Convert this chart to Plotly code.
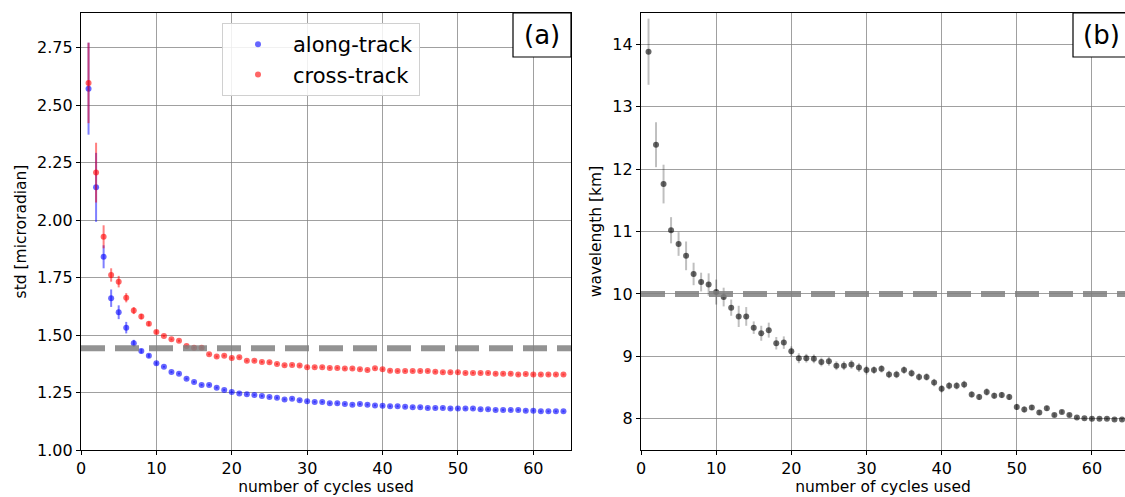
import plotly.graph_objects as go

W, H = 1125, 497

cycles = list(range(1, 65))

along_track = [2.571, 2.142, 1.840, 1.660, 1.599, 1.532, 1.464, 1.430, 1.410, 1.377,
               1.362, 1.339, 1.332, 1.310, 1.296, 1.283, 1.283, 1.271, 1.261, 1.252,
               1.246, 1.242, 1.239, 1.235, 1.230, 1.227, 1.220, 1.223, 1.216, 1.212,
               1.209, 1.209, 1.203, 1.203, 1.200, 1.197, 1.200, 1.197, 1.194, 1.192,
               1.190, 1.190, 1.188, 1.186, 1.186, 1.183, 1.183, 1.183, 1.180, 1.180,
               1.180, 1.180, 1.177, 1.177, 1.174, 1.174, 1.174, 1.174, 1.171, 1.171,
               1.168, 1.168, 1.168, 1.168]
along_err = [0.20, 0.15, 0.05, 0.038, 0.03, 0.025, 0.015, 0.01, 0.008, 0.006] + [0.004] * 54

cross_track = [2.596, 2.206, 1.927, 1.761, 1.732, 1.662, 1.606, 1.580, 1.549, 1.513,
               1.496, 1.481, 1.475, 1.452, 1.445, 1.445, 1.416, 1.406, 1.410, 1.400,
               1.403, 1.388, 1.388, 1.383, 1.381, 1.374, 1.368, 1.370, 1.367, 1.360,
               1.360, 1.360, 1.357, 1.357, 1.354, 1.354, 1.351, 1.348, 1.355, 1.351,
               1.345, 1.343, 1.343, 1.343, 1.343, 1.343, 1.340, 1.338, 1.338, 1.338,
               1.335, 1.335, 1.335, 1.335, 1.332, 1.332, 1.332, 1.328, 1.330, 1.328,
               1.328, 1.328, 1.328, 1.328]
cross_err = [0.175, 0.13, 0.05, 0.029, 0.025, 0.02, 0.015, 0.012, 0.01, 0.008] + [0.004] * 54

wavelength = [13.88, 12.39, 11.76, 11.02, 10.80, 10.61, 10.32, 10.19, 10.15, 10.03,
              9.95, 9.78, 9.64, 9.64, 9.46, 9.37, 9.42, 9.21, 9.22, 9.08,
              8.97, 8.97, 8.96, 8.91, 8.92, 8.85, 8.85, 8.87, 8.82, 8.78,
              8.78, 8.80, 8.71, 8.71, 8.78, 8.73, 8.67, 8.67, 8.58, 8.48,
              8.53, 8.53, 8.55, 8.39, 8.35, 8.43, 8.37, 8.38, 8.35, 8.19,
              8.15, 8.18, 8.10, 8.17, 8.06, 8.11, 8.06, 8.02, 8.01, 8.00,
              8.00, 8.00, 7.99, 7.99]
wavelength_err = [0.53, 0.36, 0.31, 0.21, 0.19, 0.23, 0.18, 0.15, 0.18, 0.2,
                  0.15, 0.13, 0.17, 0.15, 0.1, 0.12, 0.12, 0.1, 0.1, 0.08,
                  0.08, 0.07, 0.07, 0.07, 0.07, 0.07, 0.07, 0.07, 0.07, 0.07,
                  0.06, 0.06, 0.06, 0.06, 0.06, 0.06, 0.06, 0.06, 0.06, 0.06,
                  0.06, 0.06, 0.06, 0.05, 0.05, 0.06, 0.05, 0.05, 0.05, 0.05,
                  0.05, 0.04, 0.04, 0.04, 0.03, 0.03, 0.03, 0.02, 0.02, 0.02,
                  0.02, 0.02, 0.02, 0.02]

std_threshold = 1.442
wavelength_threshold = 10.0

left_ticks = [1.00, 1.25, 1.50, 1.75, 2.00, 2.25, 2.50, 2.75]
right_ticks = [8, 9, 10, 11, 12, 13, 14]
x_ticks = [0, 10, 20, 30, 40, 50, 60]

FONT = "DejaVu Sans"
TICK = 16
TITLE = 15.5

fig = go.Figure()

fig.add_trace(go.Scatter(
    x=cycles, y=along_track, mode="markers", name="along-track",
    marker=dict(color="rgba(0,0,255,0.6)", size=6),
    error_y=dict(type="data", array=along_err, color="rgba(0,0,255,0.5)", thickness=2, width=0),
    xaxis="x", yaxis="y"))
fig.add_trace(go.Scatter(
    x=cycles, y=cross_track, mode="markers", name="cross-track",
    marker=dict(color="rgba(255,0,0,0.6)", size=6),
    error_y=dict(type="data", array=cross_err, color="rgba(255,0,0,0.5)", thickness=2, width=0),
    xaxis="x", yaxis="y"))
fig.add_trace(go.Scatter(
    x=cycles, y=wavelength, mode="markers", name="wavelength", showlegend=False,
    marker=dict(color="rgba(0,0,0,0.6)", size=6),
    error_y=dict(type="data", array=wavelength_err, color="rgba(0,0,0,0.25)", thickness=2, width=0),
    xaxis="x2", yaxis="y2"))

dash = dict(color="rgba(128,128,128,0.85)", width=6, dash="24px,10px")
fig.add_shape(type="line", xref="x domain", yref="y", x0=0, x1=1,
              y0=std_threshold, y1=std_threshold, line=dash)
fig.add_shape(type="line", xref="x2 domain", yref="y2", x0=0, x1=1,
              y0=wavelength_threshold, y1=wavelength_threshold, line=dash)

ydom = [(H - 450) / H, (H - 13) / H]
axis_common = dict(
    showline=True, linecolor="black", linewidth=1.2,
    ticks="outside", ticklen=4, tickcolor="black",
    showgrid=True, gridcolor="rgba(128,128,128,0.75)", gridwidth=1,
    zeroline=False, automargin=False,
    tickfont=dict(family=FONT, size=TICK, color="black"),
)

fig.update_layout(
    width=W, height=H,
    margin=dict(l=0, r=0, t=0, b=0, autoexpand=False),
    paper_bgcolor="white", plot_bgcolor="white",
    font=dict(family=FONT, color="black"),
    xaxis=dict(domain=[81 / W, 571 / W], range=[0, 65], tickvals=x_ticks, mirror=True,
               anchor="y",
               title=dict(text="number of cycles used", font=dict(family=FONT, size=TITLE), standoff=2),
               **axis_common),
    yaxis=dict(domain=ydom, range=[1.0, 2.9], tickvals=left_ticks, tickformat=".2f",
               mirror=True, anchor="x",
               title=dict(text="std [microradian]", font=dict(family=FONT, size=TITLE), standoff=6),
               **axis_common),
    xaxis2=dict(domain=[641 / W, 1.0], range=[0, 64.4], tickvals=x_ticks, mirror=True,
                anchor="y2",
                title=dict(text="number of cycles used", font=dict(family=FONT, size=TITLE), standoff=2),
                **axis_common),
    yaxis2=dict(domain=ydom, range=[7.5, 14.5], tickvals=right_ticks, anchor="x2",
                title=dict(text="wavelength [km]", font=dict(family=FONT, size=TITLE), standoff=6),
                **axis_common),
    legend=dict(x=222 / W, y=(H - 23) / H, xanchor="left", yanchor="top",
                bgcolor="rgba(255,255,255,0.85)", bordercolor="#d0d0d0", borderwidth=1,
                font=dict(family=FONT, size=21, color="black"),
                itemwidth=60, tracegroupgap=4),
    showlegend=True,
)

# panel labels
fig.add_shape(type="rect", xref="paper", yref="paper",
              x0=513 / W, x1=571 / W, y0=(H - 57) / H, y1=(H - 13) / H,
              line=dict(color="black", width=1.2), fillcolor="white", layer="above")
fig.add_annotation(text="(a)", xref="paper", yref="paper", x=542 / W, y=(H - 35) / H,
                   xanchor="center", yanchor="middle",
                   showarrow=False, font=dict(family=FONT, size=26, color="black"))
fig.add_shape(type="rect", xref="paper", yref="paper",
              x0=1073 / W, x1=1.02, y0=(H - 57) / H, y1=(H - 13) / H,
              line=dict(color="black", width=1.2), fillcolor="white", layer="above")
fig.add_annotation(text="(b)", xref="paper", yref="paper", x=1101 / W, y=(H - 35) / H,
                   xanchor="center", yanchor="middle",
                   showarrow=False, font=dict(family=FONT, size=26, color="black"))

fig.write_html(
    "out.html",
    config={"displayModeBar": False},
    post_script="document.body.style.margin='0';document.body.style.overflow='hidden';",
)
